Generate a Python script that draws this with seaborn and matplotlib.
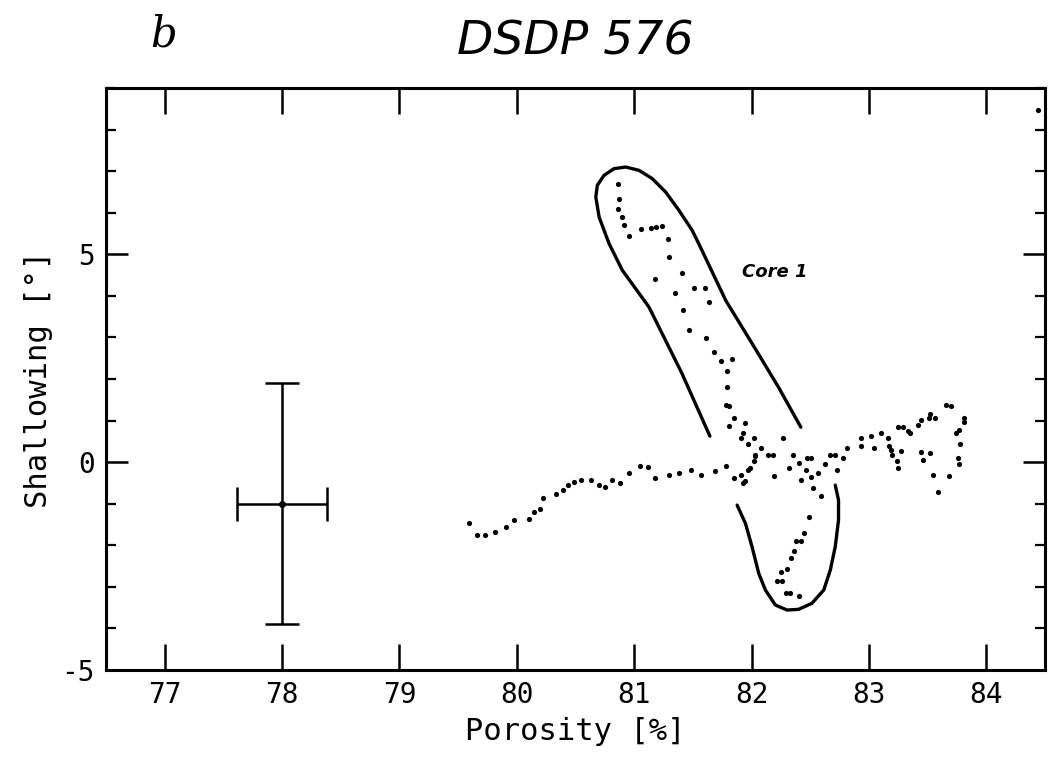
import numpy as np
import pandas as pd
import matplotlib
matplotlib.use("Agg")
import matplotlib.pyplot as plt
import seaborn as sns
from matplotlib.ticker import MultipleLocator

# ---------------- data ----------------
porosity = [
    79.59, 79.66, 79.73, 79.81, 79.91, 79.98, 80.10, 80.15, 80.20, 80.22,
    80.33, 80.39, 80.44, 80.49, 80.55, 80.63, 80.70, 80.75, 80.81, 80.88,
    80.96, 81.05, 81.12, 81.18, 81.30, 81.38, 81.48, 81.57, 81.69, 81.78,
    81.85, 81.91, 81.93, 81.99, 82.02, 82.03,
    80.86, 80.87, 80.86, 80.90, 80.91, 80.96, 81.06, 81.14, 81.19, 81.24,
    81.29, 81.30, 81.41, 81.18, 81.35, 81.51, 81.60, 81.64, 81.42, 81.47,
    81.61, 81.68, 81.74, 81.83, 81.79, 81.79, 81.78, 81.81, 81.85, 81.81,
    81.94, 81.91, 81.93, 81.97, 82.02, 82.27, 82.08, 82.14, 82.18, 82.03,
    81.97, 81.94, 82.19,
    82.32, 82.35, 82.40, 82.47, 82.51, 82.46, 82.42, 82.51, 82.57, 82.63,
    82.67, 82.71, 82.73, 82.78, 82.81, 82.93, 82.93, 83.02, 83.04, 83.10,
    83.16, 83.17, 83.19, 83.20, 83.24, 83.25, 83.27, 83.25, 83.29, 83.35,
    83.33, 83.42, 83.44, 83.51, 83.56, 83.52, 83.66, 83.70, 83.44, 83.46,
    83.52, 83.55, 83.59, 83.68, 83.77, 83.76, 83.78, 83.74, 83.77, 83.81,
    83.81,
    82.59, 82.52, 82.49, 82.45, 82.38, 82.42, 82.36, 82.34, 82.30, 82.25,
    82.22, 82.26, 82.29, 82.33, 82.40,
    84.44,
]
shallowing = [
    -1.46, -1.76, -1.76, -1.68, -1.57, -1.39, -1.38, -1.21, -1.12, -0.87,
    -0.77, -0.66, -0.54, -0.47, -0.43, -0.43, -0.54, -0.61, -0.43, -0.49,
    -0.26, -0.09, -0.12, -0.39, -0.30, -0.25, -0.20, -0.32, -0.22, -0.10,
    -0.38, -0.31, -0.51, -0.15, 0.02, 0.14,
    6.70, 6.32, 6.10, 5.90, 5.71, 5.44, 5.62, 5.63, 5.66, 5.67,
    5.36, 4.94, 4.54, 4.40, 4.08, 4.19, 4.19, 3.85, 3.65, 3.17,
    2.99, 2.64, 2.44, 2.47, 2.19, 1.80, 1.37, 1.35, 1.07, 0.87,
    0.93, 0.59, 0.69, 0.43, 0.57, 0.58, 0.34, 0.18, 0.18, 0.17,
    -0.20, -0.45, -0.34,
    -0.13, 0.17, -0.02, 0.10, 0.10, -0.18, -0.43, -0.35, -0.27, -0.05,
    0.16, 0.16, -0.18, 0.10, 0.33, 0.59, 0.39, 0.63, 0.35, 0.71,
    0.59, 0.40, 0.29, 0.18, 0.02, -0.13, 0.27, 0.84, 0.85, 0.70,
    0.75, 0.89, 1.01, 1.07, 1.05, 1.15, 1.38, 1.36, 0.25, 0.05,
    0.21, -0.31, -0.71, -0.33, -0.05, 0.09, 0.43, 0.70, 0.78, 0.96,
    1.07,
    -0.82, -0.63, -1.31, -1.71, -1.90, -1.90, -2.13, -2.30, -2.56, -2.65,
    -2.85, -2.87, -3.14, -3.16, -3.21,
    8.46,
]

# hand-drawn outlines around groups of points
core1_x = [81.645, 81.406, 81.126, 80.899, 80.786, 80.701, 80.673, 80.686,
           80.743, 80.828, 80.928, 81.041, 81.154, 81.268, 81.381, 81.494,
           81.550, 81.78, 82.04, 82.23, 82.42]
core1_y = [0.625, 2.14, 3.73, 4.615, 5.257, 5.897, 6.378, 6.659,
           6.899, 7.060, 7.099, 7.019, 6.820, 6.498, 6.058, 5.577,
           5.257, 3.89, 2.69, 1.80, 0.84]
lower_x = [81.877, 81.948, 82.004, 82.061, 82.118, 82.203, 82.302, 82.401,
           82.514, 82.615, 82.671, 82.713, 82.741, 82.741, 82.713]
lower_y = [-1.034, -1.474, -2.036, -2.675, -3.077, -3.438, -3.558, -3.541,
           -3.397, -3.077, -2.596, -2.036, -1.394, -0.913, -0.553]

# representative error bar
err_x, err_y = 78.0, -1.0
err_dx, err_dy = 0.38, 2.9

x_ticks = [77, 78, 79, 80, 81, 82, 83, 84]
y_ticks = [-5, 0, 5]

# ---------------- plot ----------------
sns.set_style("ticks")
plt.rcParams["font.family"] = ["DejaVu Sans Mono", "DejaVu Sans"]
plt.rcParams["axes.unicode_minus"] = False
plt.rcParams["text.color"] = "black"
plt.rcParams["axes.labelcolor"] = "black"
plt.rcParams["xtick.color"] = "black"
plt.rcParams["ytick.color"] = "black"

fig = plt.figure(figsize=(10.55, 7.7), dpi=100)
ax = fig.add_axes([0.1005, 0.1299, 0.89, 0.7558])

df = pd.DataFrame({"Porosity": porosity, "Shallowing": shallowing})
sns.scatterplot(data=df, x="Porosity", y="Shallowing", ax=ax,
                color="black", s=14, linewidth=0, legend=False, zorder=3)

ax.plot(core1_x, core1_y, color="black", lw=2.4, solid_capstyle="round",
        solid_joinstyle="round")
ax.plot(lower_x, lower_y, color="black", lw=2.4, solid_capstyle="round",
        solid_joinstyle="round")

ax.errorbar([err_x], [err_y], xerr=[err_dx], yerr=[err_dy], fmt="o",
            color="black", ms=4, elinewidth=1.8, capsize=12, capthick=1.8)

ax.text(81.92, 4.57, "Core 1", style="italic", fontweight="bold",
        fontsize=13, family="DejaVu Sans", ha="left", va="center")

ax.set_xlim(76.5, 84.5)
ax.set_ylim(-5, 9)
ax.set_xticks(x_ticks)
ax.set_yticks(y_ticks)
ax.yaxis.set_minor_locator(MultipleLocator(1))
ax.tick_params(axis="both", which="major", direction="in", top=True,
               right=True, width=1.8, labelsize=20, pad=8)
ax.tick_params(axis="x", which="major", length=19)
ax.tick_params(axis="y", which="major", length=16)
ax.tick_params(axis="y", which="minor", direction="in", right=True,
               left=True, length=7, width=1.6)
for sp in ax.spines.values():
    sp.set_linewidth(2.2)
    sp.set_color("black")

ax.set_xlabel("Porosity [%]", fontsize=22, labelpad=6)
ax.set_ylabel("Shallowing [°]", fontsize=22, labelpad=6)

ax.set_title("DSDP 576", fontsize=34, style="italic", family="DejaVu Sans",
             pad=24, color="black")
fig.text(0.142, 0.94, "b", fontsize=30, style="italic",
         family="DejaVu Serif", ha="left", va="baseline")

fig.savefig("out.png", dpi=100, facecolor="white")
